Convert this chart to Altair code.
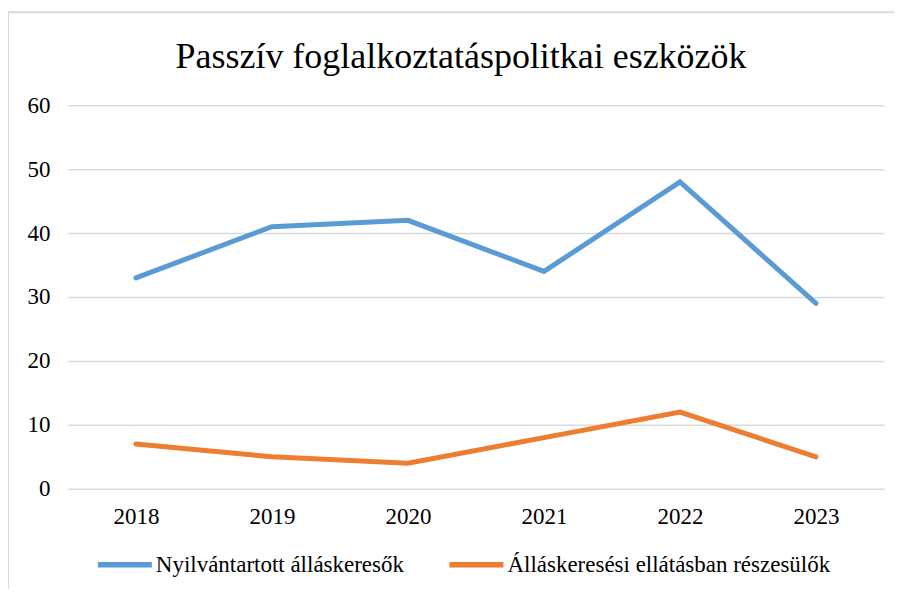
import altair as alt
import pandas as pd

years = ["2018", "2019", "2020", "2021", "2022", "2023"]
series_names = ["Nyilvántartott álláskeresők", "Álláskeresési ellátásban részesülők"]
registered = [33, 41, 42, 34, 48, 29]
benefit = [7, 5, 4, 8, 12, 5]
colors = ["#5b9bd5", "#ed7d31"]

rows = []
for y, v in zip(years, registered):
    rows.append({"year": y, "series": series_names[0], "value": v})
for y, v in zip(years, benefit):
    rows.append({"year": y, "series": series_names[1], "value": v})
df = pd.DataFrame(rows)

FONT = "Liberation Serif"

lines = alt.Chart(df).mark_line(strokeWidth=5, strokeCap="round", strokeJoin="miter").encode(
    x=alt.X("year:O", sort=years, title=None,
            scale=alt.Scale(paddingInner=0, paddingOuter=0.5),
            axis=alt.Axis(labelAngle=0, ticks=False, domain=False, labelPadding=17,
                          labelFont=FONT, labelFontSize=23, labelColor="#000000")),
    y=alt.Y("value:Q", title=None,
            scale=alt.Scale(domain=[0, 60], nice=False),
            axis=alt.Axis(values=[0, 10, 20, 30, 40, 50, 60], ticks=False, domain=False,
                          labelPadding=18, labelFontSize=23, labelFont=FONT,
                          labelColor="#000000", gridColor="#d9d9d9", gridWidth=1.5)),
    color=alt.Color("series:N", sort=series_names, title=None,
                    scale=alt.Scale(domain=series_names, range=colors),
                    legend=alt.Legend(orient="none", direction="horizontal",
                                      legendX=27, legendY=430,
                                      symbolType="stroke", symbolSize=2916,
                                      symbolStrokeWidth=5.5, labelOffset=1,
                                      columnPadding=34, labelFont=FONT,
                                      labelFontSize=23, labelColor="#000000",
                                      labelLimit=500)),
)

border_df = pd.DataFrame({"k": [0]})
left_border = alt.Chart(border_df).mark_rule(color="#d9d9d9", strokeWidth=2).encode(
    x=alt.value(-60), y=alt.value(-93), y2=alt.value(500)
)
top_border = alt.Chart(border_df).mark_rule(color="#d9d9d9", strokeWidth=2).encode(
    x=alt.value(-60), x2=alt.value(900), y=alt.value(-93)
)

chart = alt.layer(left_border, top_border, lines).properties(
    width=817,
    height=384,
    title=alt.TitleParams("Passzív foglalkoztatáspolitkai eszközök", font=FONT,
                          fontSize=36, fontWeight="normal", color="#000000",
                          anchor="middle", offset=-65, dx=-15),
    autosize=alt.AutoSizeParams(type="none"),
    padding={"left": 60, "top": 97, "right": 10, "bottom": 100},
).configure(background="white").configure_view(stroke=None)

chart.save("out.html", embed_options={"renderer": "svg", "actions": False})
